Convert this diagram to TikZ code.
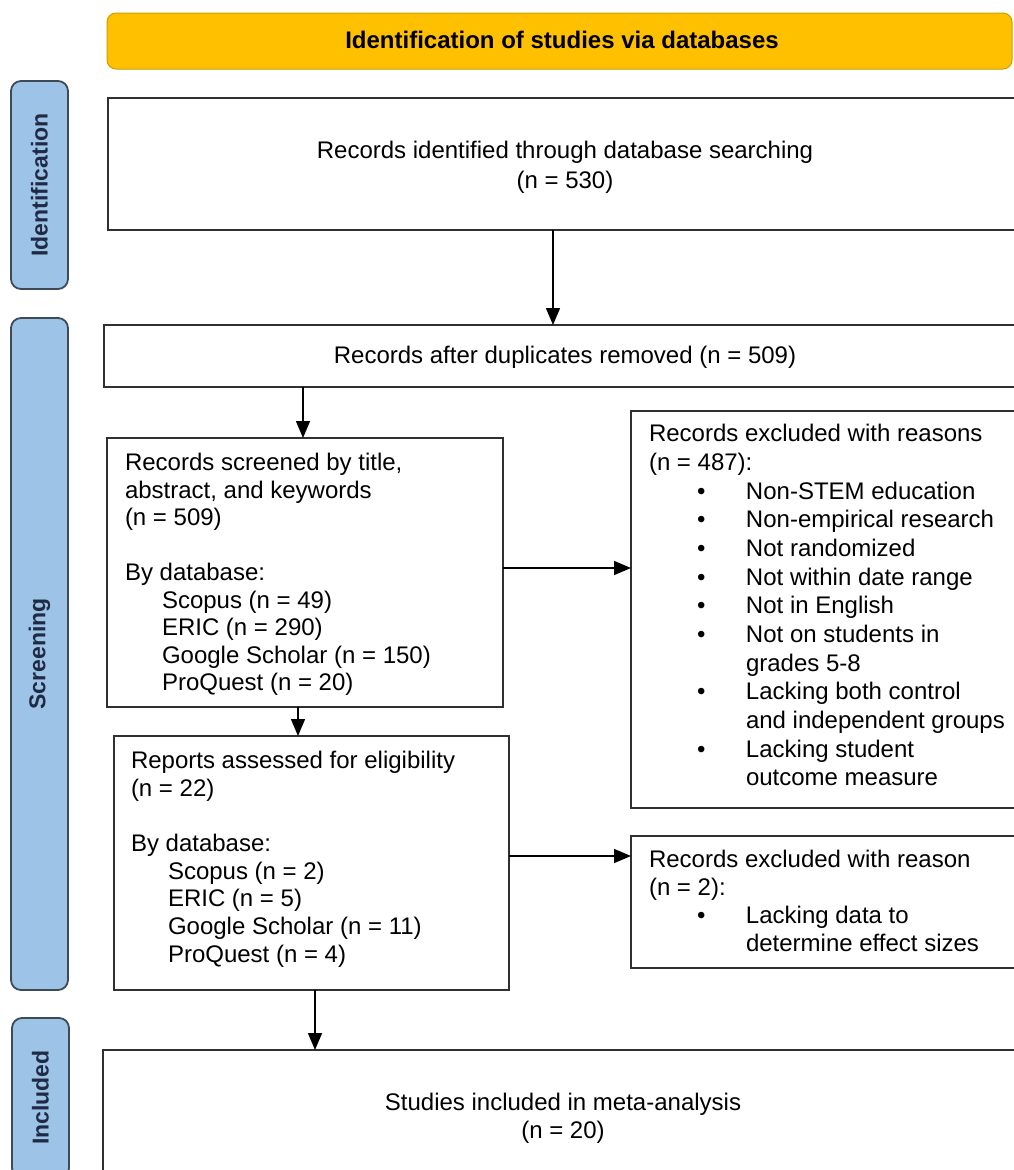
\documentclass[tikz,border=0pt]{standalone}
\usepackage{fontspec}
\setmainfont{Liberation Sans}
\usetikzlibrary{arrows.meta}
\definecolor{hdrfill}{HTML}{FFC000}
\definecolor{hdrline}{HTML}{C9A100}
\definecolor{labfill}{HTML}{9DC3E6}
\definecolor{labline}{HTML}{3D4A57}
\definecolor{labtext}{HTML}{1F2A44}
\definecolor{boxline}{HTML}{303030}
\newcommand\bl{\makebox[97pt][l]{\hspace*{48pt}\textbullet}}
\newcommand\ind{\hspace*{97pt}}
\begin{document}
\begin{tikzpicture}[x=1pt,y=-1pt,
  box/.style={draw=boxline, line width=1.8pt, fill=white, inner sep=0pt, outer sep=0pt, anchor=north west},
  hdrbox/.style={draw=hdrline, fill=hdrfill, line width=1pt, rounded corners=9pt, inner sep=0pt, outer sep=0pt, anchor=north west},
  labbox/.style={draw=labline, fill=labfill, line width=1.8pt, rounded corners=10pt, inner sep=0pt, outer sep=0pt, anchor=north west},
  labtxt/.style={rotate=90, inner sep=0pt, text=labtext, font=\fontsize{23}{27}\selectfont\bfseries},
  txt/.style={inner sep=0pt, outer sep=0pt, align=left, anchor=north west},
  ctxt/.style={inner sep=0pt, outer sep=0pt, align=center, anchor=north},
  arr/.style={line width=1.5pt, draw=black, -{Triangle[length=17pt,width=14pt]}}]
\clip (0,0) rectangle (1014,1170);
\fill[white] (0,0) rectangle (1014,1170);

% header
\node[hdrbox, minimum width=905pt, minimum height=56pt] (hd) at (107,13) {};
\node[ctxt, font=\fontsize{24}{28}\selectfont\bfseries] (hdt) at (562,31.5) {Identification of studies via databases};

% side labels
\node[labbox, minimum width=57pt, minimum height=208pt] (l1) at (11,81) {};
\node[labtxt] (l1t) at (l1.center) {Identification};
\node[labbox, minimum width=57pt, minimum height=672pt] (l2) at (11,318) {};
\node[labtxt] (l2t) at (l2.center) {Screening};
\node[labbox, minimum width=57pt, minimum height=160pt] (l3) at (12,1018) {};
\node[labtxt] (l3t) at (40.5,1097.5) {Included};

% boxes
\node[box, minimum width=940pt, minimum height=132pt] (b1) at (108,98) {};
\node[box, minimum width=950pt, minimum height=62pt] (b2) at (104,325) {};
\node[box, minimum width=396pt, minimum height=269pt] (b3) at (107,438) {};
\node[box, minimum width=420pt, minimum height=397pt] (b4) at (631,411) {};
\node[box, minimum width=395pt, minimum height=254pt] (b5) at (114,736) {};
\node[box, minimum width=420pt, minimum height=132pt] (b6) at (631,836) {};
\node[box, minimum width=950pt, minimum height=160pt] (b7) at (103,1050) {};

% texts
\node[ctxt, font=\fontsize{24}{30}\selectfont] (t1) at (565,141) {Records identified through database searching\\(n = 530)};
\node[ctxt, font=\fontsize{24}{28}\selectfont] (t2) at (565,346) {Records after duplicates removed (n = 509)};
\node[txt, font=\fontsize{24}{27.5}\selectfont] (t3) at (125,453.5) {Records screened by title,\\
abstract, and keywords\\
(n = 509)\\[27.5pt]
By database:\\
\hspace*{37pt}Scopus (n = 49)\\
\hspace*{37pt}ERIC (n = 290)\\
\hspace*{37pt}Google Scholar (n = 150)\\
\hspace*{37pt}ProQuest (n = 20)};
\node[txt, font=\fontsize{24}{28.67}\selectfont] (t4) at (649,424.5) {Records excluded with reasons\\
(n = 487):\\
\bl Non-STEM education\\
\bl Non-empirical research\\
\bl Not randomized\\
\bl Not within date range\\
\bl Not in English\\
\bl Not on students in\\
\ind grades 5-8\\
\bl Lacking both control\\
\ind and independent groups\\
\bl Lacking student\\
\ind outcome measure};
\node[txt, font=\fontsize{24}{27.6}\selectfont] (t5) at (131,751.5) {Reports assessed for eligibility\\
(n = 22)\\[27.6pt]
By database:\\
\hspace*{37pt}Scopus (n = 2)\\
\hspace*{37pt}ERIC (n = 5)\\
\hspace*{37pt}Google Scholar (n = 11)\\
\hspace*{37pt}ProQuest (n = 4)};
\node[txt, font=\fontsize{24}{28}\selectfont] (t6) at (649,850.5) {Records excluded with reason\\
(n = 2):\\
\bl Lacking data to\\
\ind determine effect sizes};
\node[ctxt, font=\fontsize{24}{28}\selectfont] (t7) at (563,1093) {Studies included in meta-analysis\\(n = 20)};

% connectors
\coordinate (ax1) at (553,0);
\coordinate (ax2) at (303,0);
\coordinate (ax3) at (298,0);
\coordinate (ax4) at (315,0);
\coordinate (ay1) at (0,568);
\coordinate (ay2) at (0,856);
\draw[arr] (b1.south -| ax1) -- (b2.north -| ax1);
\draw[arr] (b2.south -| ax2) -- (b3.north -| ax2);
\draw[arr] (b3.south -| ax3) -- (b5.north -| ax3);
\draw[arr] (b5.south -| ax4) -- (b7.north -| ax4);
\draw[arr] (b3.east |- ay1) -- (b4.west |- ay1);
\draw[arr] (b5.east |- ay2) -- (b6.west |- ay2);
\end{tikzpicture}
\end{document}
